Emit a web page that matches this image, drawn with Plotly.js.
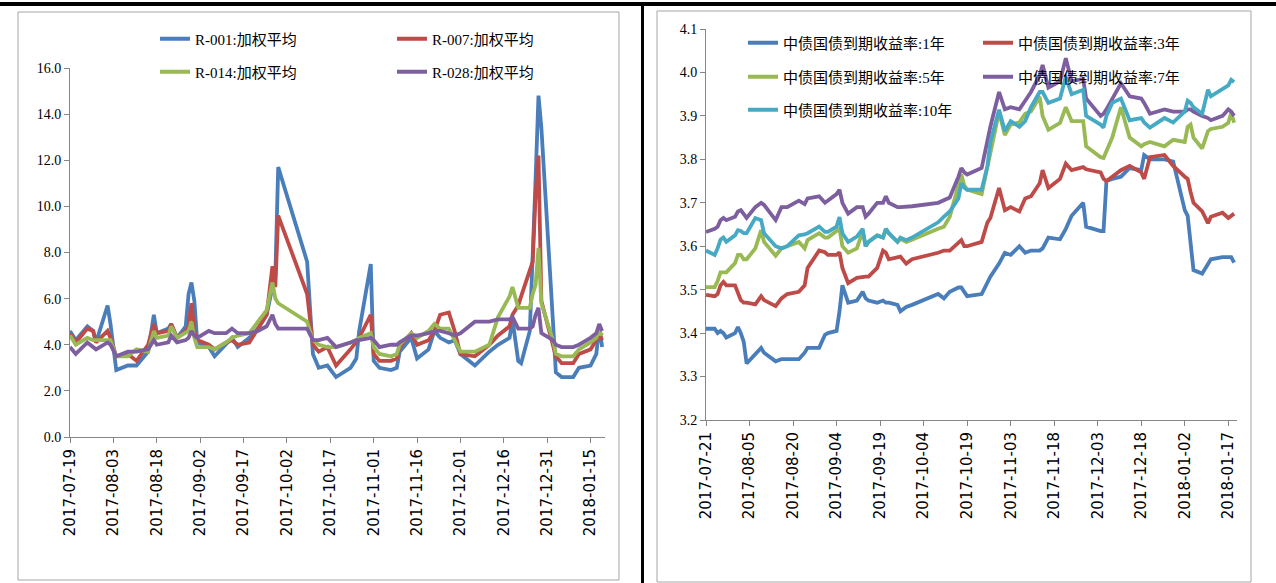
<!DOCTYPE html>
<html><head><meta charset="utf-8">
<script src="https://cdn.plot.ly/plotly-3.0.1.min.js"></script>
<style>html,body{margin:0;padding:0;background:#fff}#chart{width:1276px;height:583px}</style>
</head><body><div id="chart"></div>
<script>
// ---------- Left chart: repo rates ----------
const repoDates = ['2017-07-19','2017-07-21','2017-07-25','2017-07-27','2017-07-28',
'2017-08-01','2017-08-02','2017-08-04','2017-08-08','2017-08-11','2017-08-15','2017-08-17','2017-08-18','2017-08-22','2017-08-23','2017-08-25','2017-08-28','2017-08-29','2017-08-30','2017-08-31',
'2017-09-01','2017-09-05','2017-09-07','2017-09-11','2017-09-13','2017-09-15','2017-09-19','2017-09-22','2017-09-25','2017-09-27','2017-09-28','2017-09-29',
'2017-10-09','2017-10-11','2017-10-13','2017-10-16','2017-10-19','2017-10-24','2017-10-26','2017-10-27','2017-10-31',
'2017-11-01','2017-11-03','2017-11-07','2017-11-09','2017-11-10','2017-11-14','2017-11-16','2017-11-20','2017-11-22','2017-11-24','2017-11-27','2017-11-29',
'2017-12-01','2017-12-06','2017-12-11','2017-12-14','2017-12-18','2017-12-19','2017-12-21','2017-12-22','2017-12-25','2017-12-26','2017-12-27','2017-12-28','2017-12-29',
'2018-01-02','2018-01-03','2018-01-05','2018-01-09','2018-01-11','2018-01-15','2018-01-17','2018-01-18','2018-01-19'];
const r001 = [4.6,4.2,4.8,4.6,4.1,
5.7,4.9,2.9,3.1,3.1,3.7,5.3,4.5,4.7,4.9,4.3,4.8,6.2,6.7,5.9,
4.1,3.9,3.5,4.0,4.3,3.9,4.3,4.7,5.3,6.5,7.0,11.7,
7.6,3.6,3.0,3.1,2.6,3.0,3.4,4.6,7.5,
3.3,3.0,2.9,3.0,3.7,4.3,3.4,3.8,4.6,4.3,4.1,4.2,
3.6,3.1,3.7,4.0,4.3,5.1,3.3,3.2,4.6,7.5,11.2,14.8,13.4,
5.0,2.8,2.6,2.6,3.0,3.1,3.6,4.8,3.9];
const r007 = [4.5,4.1,4.7,4.6,4.1,
4.6,4.3,3.5,3.6,3.3,4.0,4.9,4.5,4.6,4.9,4.3,4.6,4.8,5.8,4.6,
4.2,4.0,3.8,4.1,4.2,4.0,4.1,4.7,5.3,7.4,6.5,9.6,
6.2,4.0,3.7,3.9,3.1,3.8,4.1,4.3,5.3,
3.6,3.3,3.3,3.4,3.9,4.5,4.0,4.2,4.6,5.3,5.4,4.6,
3.6,3.5,4.0,4.4,4.8,5.3,5.7,6.1,7.3,7.6,10.5,12.2,5.9,
4.0,3.5,3.2,3.2,3.6,3.8,4.2,4.5,4.2];
const r014 = [4.4,4.0,4.3,4.2,4.2,
4.2,4.2,3.5,3.5,3.8,3.7,4.6,4.3,4.4,4.8,4.3,4.5,4.6,5.0,4.3,
3.9,3.9,3.8,4.1,4.3,4.4,4.5,5.0,5.5,6.7,6.0,5.8,
5.0,4.2,4.0,3.9,3.9,4.1,4.2,4.3,4.5,
3.9,3.6,3.5,3.6,4.0,4.5,4.3,4.6,4.9,4.7,4.7,4.2,
3.7,3.7,4.0,5.2,6.1,6.5,5.6,5.6,5.6,6.2,6.6,8.2,5.8,
4.2,3.6,3.5,3.5,3.8,4.1,4.3,4.6,4.4];
const r028 = [3.9,3.6,4.1,3.9,3.8,
4.1,4.0,3.5,3.7,3.7,3.8,4.2,4.0,4.1,4.4,4.1,4.2,4.3,4.6,4.4,
4.3,4.6,4.5,4.5,4.7,4.5,4.5,4.6,4.8,5.3,4.9,4.7,
4.7,4.2,4.2,4.3,3.9,4.1,4.2,4.2,4.3,
4.2,3.9,4.0,4.0,4.1,4.4,4.4,4.5,4.6,4.6,4.5,4.4,
4.5,5.0,5.0,5.1,5.1,5.2,4.7,4.7,4.7,4.8,5.3,5.6,4.5,
4.2,4.0,3.9,3.9,4.0,4.3,4.5,4.9,4.6];
const repoNames = ['R-001:加权平均','R-007:加权平均','R-014:加权平均','R-028:加权平均'];
const repoTicks = ['2017-07-19','2017-08-03','2017-08-18','2017-09-02','2017-09-17','2017-10-02','2017-10-17','2017-11-01','2017-11-16','2017-12-01','2017-12-16','2017-12-31','2018-01-15'];
const repoYTicks = [0,2,4,6,8,10,12,14,16];

// ---------- Right chart: treasury yields ----------
const bondDates = ['2017-07-21','2017-07-24','2017-07-25','2017-07-26','2017-07-27','2017-07-28','2017-07-31',
'2017-08-01','2017-08-02','2017-08-03','2017-08-04','2017-08-07','2017-08-09','2017-08-10','2017-08-14','2017-08-16','2017-08-18','2017-08-22','2017-08-24','2017-08-25','2017-08-29','2017-08-31',
'2017-09-01','2017-09-04','2017-09-05','2017-09-06','2017-09-08','2017-09-11','2017-09-13','2017-09-14','2017-09-15','2017-09-18','2017-09-20','2017-09-21','2017-09-22','2017-09-25','2017-09-26','2017-09-28','2017-09-30',
'2017-10-09','2017-10-11','2017-10-13','2017-10-16','2017-10-17','2017-10-18','2017-10-19','2017-10-24','2017-10-26','2017-10-27','2017-10-30',
'2017-11-01','2017-11-03','2017-11-06','2017-11-08','2017-11-10','2017-11-13','2017-11-14','2017-11-16','2017-11-20','2017-11-22','2017-11-24','2017-11-28','2017-11-29',
'2017-12-04','2017-12-05','2017-12-06','2017-12-08','2017-12-11','2017-12-14','2017-12-18','2017-12-19','2017-12-21','2017-12-26','2017-12-29',
'2018-01-02','2018-01-03','2018-01-04','2018-01-05','2018-01-08','2018-01-10','2018-01-11','2018-01-15','2018-01-17','2018-01-18','2018-01-19'];
const y1 = [3.41,3.41,3.40,3.405,3.40,3.39,3.40,
3.414,3.40,3.38,3.33,3.35,3.366,3.355,3.335,3.34,3.34,3.34,3.355,3.366,3.366,3.396,
3.40,3.405,3.45,3.51,3.47,3.475,3.495,3.48,3.475,3.47,3.475,3.47,3.47,3.465,3.45,3.46,3.465,
3.49,3.48,3.495,3.505,3.505,3.495,3.485,3.49,3.515,3.53,3.56,
3.585,3.58,3.60,3.585,3.59,3.59,3.595,3.62,3.616,3.64,3.67,3.70,3.645,
3.635,3.635,3.75,3.755,3.76,3.78,3.775,3.81,3.80,3.80,3.795,
3.683,3.67,3.60,3.545,3.537,3.56,3.57,3.575,3.575,3.575,3.562];
const y3 = [3.488,3.485,3.49,3.51,3.518,3.51,3.51,
3.49,3.476,3.47,3.47,3.466,3.485,3.476,3.462,3.48,3.49,3.495,3.51,3.55,3.59,3.586,
3.58,3.58,3.586,3.55,3.515,3.527,3.53,3.53,3.53,3.55,3.59,3.585,3.57,3.576,3.576,3.56,3.57,
3.585,3.59,3.59,3.61,3.614,3.60,3.60,3.61,3.655,3.665,3.734,
3.683,3.69,3.68,3.71,3.715,3.745,3.775,3.734,3.755,3.79,3.775,3.782,3.777,
3.77,3.755,3.75,3.76,3.775,3.785,3.77,3.755,3.805,3.81,3.785,
3.76,3.755,3.725,3.70,3.68,3.653,3.668,3.677,3.665,3.67,3.675];
const y5 = [3.506,3.506,3.52,3.54,3.54,3.54,3.561,
3.58,3.58,3.57,3.57,3.595,3.637,3.61,3.578,3.595,3.60,3.61,3.595,3.614,3.63,3.62,
3.62,3.635,3.64,3.60,3.585,3.595,3.635,3.60,3.61,3.625,3.62,3.64,3.63,3.61,3.617,3.61,3.615,
3.64,3.645,3.668,3.74,3.765,3.74,3.73,3.72,3.78,3.82,3.909,
3.856,3.88,3.885,3.905,3.91,3.944,3.90,3.868,3.884,3.92,3.888,3.888,3.83,
3.805,3.803,3.82,3.85,3.92,3.85,3.83,3.835,3.84,3.83,3.845,
3.84,3.875,3.88,3.85,3.825,3.865,3.87,3.875,3.884,3.907,3.884];
const y7 = [3.633,3.64,3.645,3.66,3.665,3.66,3.668,
3.68,3.683,3.675,3.665,3.69,3.70,3.695,3.66,3.69,3.69,3.705,3.697,3.71,3.715,3.70,
3.705,3.72,3.73,3.70,3.675,3.69,3.69,3.668,3.675,3.70,3.70,3.715,3.70,3.69,3.69,3.69,3.692,
3.70,3.705,3.712,3.76,3.78,3.77,3.765,3.78,3.84,3.875,3.955,
3.915,3.92,3.915,3.935,3.955,3.994,4.017,3.965,3.98,4.033,3.98,3.985,3.94,
3.90,3.905,3.915,3.94,3.975,3.945,3.94,3.93,3.905,3.915,3.91,
3.91,3.915,3.915,3.91,3.90,3.895,3.89,3.90,3.915,3.91,3.90];
const y10 = [3.59,3.58,3.595,3.615,3.62,3.61,3.625,
3.637,3.635,3.63,3.63,3.665,3.66,3.63,3.60,3.595,3.60,3.625,3.627,3.63,3.645,3.633,
3.633,3.645,3.667,3.63,3.61,3.622,3.64,3.60,3.61,3.625,3.62,3.64,3.63,3.61,3.62,3.614,3.62,
3.655,3.668,3.68,3.71,3.745,3.735,3.73,3.73,3.785,3.84,3.914,
3.865,3.888,3.875,3.888,3.92,3.955,3.955,3.93,3.94,3.99,3.95,3.96,3.90,
3.88,3.873,3.90,3.93,3.94,3.89,3.895,3.885,3.873,3.895,3.885,
3.91,3.935,3.93,3.92,3.905,3.96,3.945,3.96,3.97,3.983,3.978];
const bondNames = ['中债国债到期收益率:1年','中债国债到期收益率:3年','中债国债到期收益率:5年','中债国债到期收益率:7年','中债国债到期收益率:10年'];
const bondTicks = ['2017-07-21','2017-08-05','2017-08-20','2017-09-04','2017-09-19','2017-10-04','2017-10-19','2017-11-03','2017-11-18','2017-12-03','2017-12-18','2018-01-02','2018-01-17'];
const bondYTicks = [3.2,3.3,3.4,3.5,3.6,3.7,3.8,3.9,4.0,4.1];

// ---------- styling ----------
const W = 1276, H = 583;
const px = x => x / W, py = y => 1 - y / H;
const C = {blue:'#4A7EBB', red:'#BE4B48', green:'#98B954', purple:'#7D5FA0', cyan:'#46AAC5'};
const serif = 'Liberation Serif, "Noto Sans CJK SC", serif';
const legFont = {family: serif, size: 15, color: '#000'};

function tr(x, y, name, color, xa, ya, leg) {
  return {type:'scatter', mode:'lines', x:x, y:y, name:name, xaxis:xa, yaxis:ya, legend:leg,
          line:{color:color, width:3.8}, hoverinfo:'skip'};
}
const data = [
  tr(repoDates, r001, repoNames[0], C.blue,   'x','y','legend'),
  tr(repoDates, r007, repoNames[1], C.red,    'x','y','legend2'),
  tr(repoDates, r014, repoNames[2], C.green,  'x','y','legend3'),
  tr(repoDates, r028, repoNames[3], C.purple, 'x','y','legend4'),
  tr(bondDates, y1,  bondNames[0], C.blue,   'x2','y2','legend5'),
  tr(bondDates, y3,  bondNames[1], C.red,    'x2','y2','legend6'),
  tr(bondDates, y5,  bondNames[2], C.green,  'x2','y2','legend7'),
  tr(bondDates, y7,  bondNames[3], C.purple, 'x2','y2','legend8'),
  tr(bondDates, y10, bondNames[4], C.cyan,   'x2','y2','legend9')
];

function leg(xp, yp) {
  return {x:px(xp), y:py(yp), xanchor:'left', yanchor:'middle', bgcolor:'rgba(0,0,0,0)',
          borderwidth:0, font:legFont, itemwidth:30};
}
const axCommon = {showline:true, linecolor:'#868686', linewidth:1, ticks:'outside', ticklen:5,
                  tickcolor:'#868686', showgrid:false, zeroline:false, fixedrange:true};
const dateFont = {family:'DejaVu Sans, sans-serif', size:15, color:'#000'};
const numFont = {family:serif, size:14, color:'#000'};

const layout = {
  width:W, height:H, margin:{l:0,r:0,t:0,b:0}, paper_bgcolor:'#fff', plot_bgcolor:'#fff',
  showlegend:true,
  xaxis: Object.assign({}, axCommon, {domain:[px(70), px(605)], anchor:'y', type:'date',
    range:['2017-07-19','2018-01-20'], tickmode:'array', tickvals:repoTicks, ticktext:repoTicks,
    tickangle:-90, tickfont:dateFont}),
  yaxis: Object.assign({}, axCommon, {domain:[py(437), py(68)], anchor:'x', range:[0,16],
    tickmode:'array', tickvals:repoYTicks, tickformat:'.1f', tickfont:numFont}),
  xaxis2: Object.assign({}, axCommon, {domain:[px(706), px(1237)], anchor:'y2', type:'date',
    range:['2017-07-21','2018-01-20'], tickmode:'array', tickvals:bondTicks, ticktext:bondTicks,
    tickangle:-90, tickfont:dateFont}),
  yaxis2: Object.assign({}, axCommon, {domain:[py(420), py(29)], anchor:'x2', range:[3.2,4.1],
    tickmode:'array', tickvals:bondYTicks, tickformat:'.1f', tickfont:numFont}),
  legend:  leg(155, 39),
  legend2: leg(392, 39),
  legend3: leg(155, 72),
  legend4: leg(392, 72),
  legend5: leg(743, 43),
  legend6: leg(978, 43),
  legend7: leg(743, 77),
  legend8: leg(978, 77),
  legend9: leg(743, 110),
  shapes: [
    {type:'rect', xref:'paper', yref:'paper', x0:0, x1:1, y0:py(6), y1:py(2), fillcolor:'#000', line:{width:0}},
    {type:'rect', xref:'paper', yref:'paper', x0:px(641), x1:px(644), y0:0, y1:py(4), fillcolor:'#000', line:{width:0}},
    {type:'rect', xref:'paper', yref:'paper', x0:px(18), x1:px(619), y0:py(580), y1:py(12), line:{color:'#a6a6a6', width:1}},
    {type:'rect', xref:'paper', yref:'paper', x0:px(657), x1:px(1251), y0:py(582), y1:py(11), line:{color:'#a6a6a6', width:1}}
  ]
};
Plotly.newPlot('chart', data, layout, {displayModeBar:false, staticPlot:true});
</script></body></html>
